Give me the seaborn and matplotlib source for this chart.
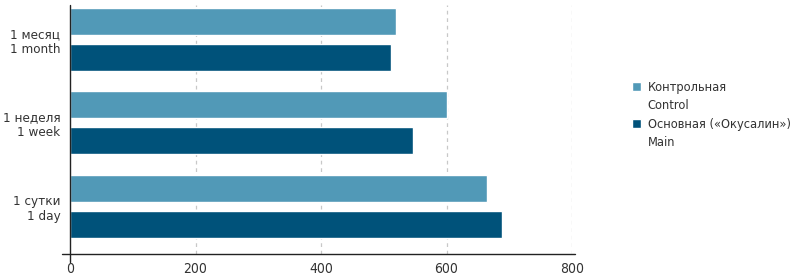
import matplotlib
matplotlib.use("Agg")
import matplotlib.pyplot as plt
import seaborn as sns
import pandas as pd
from matplotlib.patches import Patch

periods = ["1 месяц\n1 month", "1 неделя\n1 week", "1 сутки\n1 day"]
groups = ["Контрольная", "Основная («Окусалин»)"]
group_sub = ["Control", "Main"]
control_vals = [520, 601, 665]
main_vals = [511, 547, 688]
x_ticks = [0, 200, 400, 600, 800]

colors = ["#5199b7", "#00527a"]

sns.set_theme(style="white")
plt.rcParams['font.family'] = ['DejaVu Sans']
plt.rcParams['font.stretch'] = 'condensed'

df = pd.DataFrame({
    "period": periods * 2,
    "group": [groups[0]] * 3 + [groups[1]] * 3,
    "value": control_vals + main_vals,
})

fig = plt.figure(figsize=(8, 2.79), dpi=100)
ax = fig.add_axes([70 / 800, 1 - 254 / 279, (572 - 70) / 800, (254 - 5) / 279])

sns.barplot(data=df, y="period", x="value", hue="group", order=periods,
            hue_order=groups, palette=colors, orient="h", width=0.862,
            gap=0.25, legend=False, ax=ax, saturation=1, errorbar=None)

ax.set_xlim(0, 800)
ax.set_ylim(2.569, -0.413)
ax.set_xticks(x_ticks)
ax.set_xticklabels([str(t) for t in x_ticks], fontsize=10, color="#333333")
ax.set_yticks(range(len(periods)))
ax.set_yticklabels(periods, fontsize=9.6, color="#333333", ha="right",
                   multialignment="right", linespacing=1.2)
ax.tick_params(axis="y", length=0, pad=7)
ax.tick_params(axis="x", length=0, pad=6)
ax.set_xlabel("")
ax.set_ylabel("")

for t in x_ticks[1:]:
    ax.axvline(t, color="#c8c8c8", linestyle=(0, (3, 3)), linewidth=0.9, zorder=0)
ax.set_axisbelow(True)

for s in ["top", "right", "left", "bottom"]:
    ax.spines[s].set_visible(False)
ax.plot([-0.016, 1.006], [0, 0], transform=ax.transAxes, color="#222222",
        linewidth=1.0, clip_on=False)
ax.plot([0, 0], [-0.032, 1.0], transform=ax.transAxes, color="#222222",
        linewidth=1.0, clip_on=False)

handles = [Patch(facecolor=colors[0]), Patch(facecolor="none", edgecolor="none"),
           Patch(facecolor=colors[1]), Patch(facecolor="none", edgecolor="none")]
labels = [groups[0], group_sub[0], groups[1], group_sub[1]]
fig.legend(handles, labels, loc="center left", bbox_to_anchor=(626 / 800, 1 - 115 / 279),
           frameon=False, fontsize=9.2, handlelength=0.7, handleheight=0.7,
           handletextpad=0.5, labelspacing=0.4, borderpad=0, labelcolor="#333333")

fig.savefig("out.png", dpi=100)
